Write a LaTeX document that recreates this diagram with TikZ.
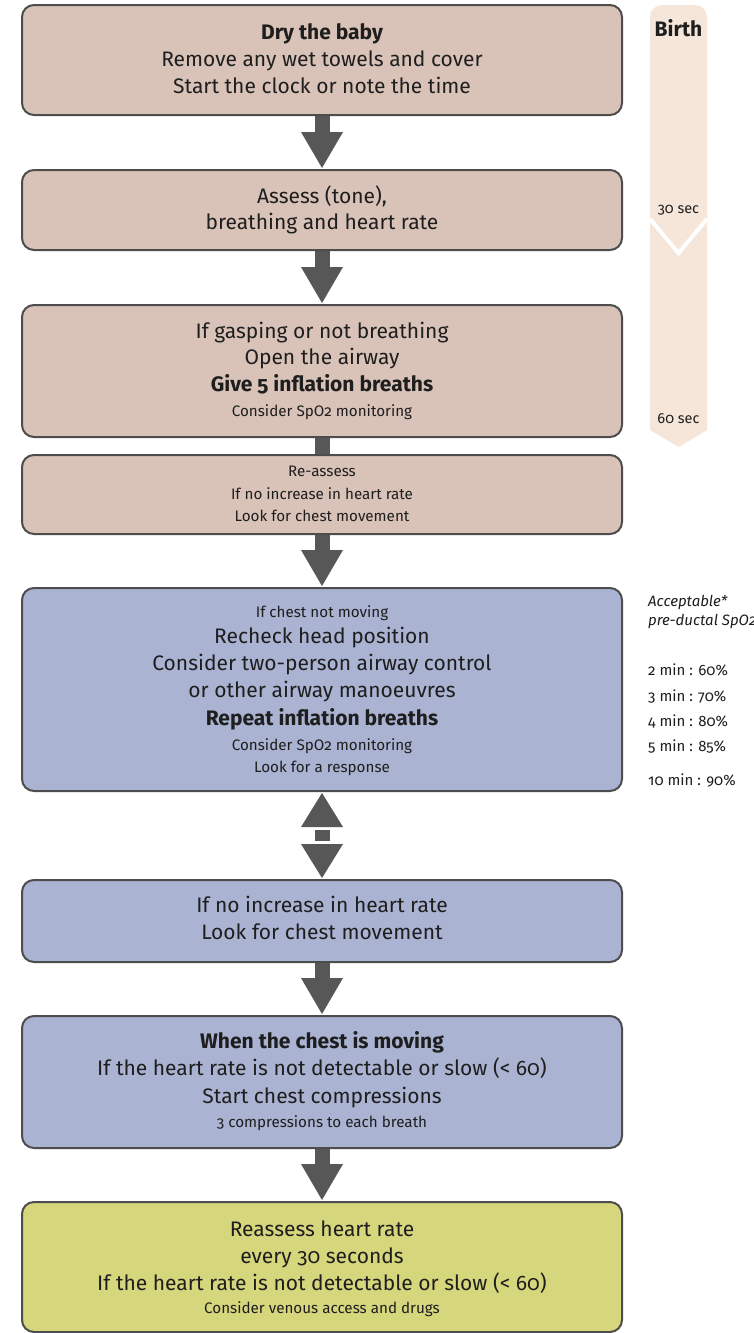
\documentclass[tikz,border=0pt]{standalone}
\usepackage{fontspec}
\setmainfont{Fira Sans}[Numbers=OldStyle]
\usetikzlibrary{calc}
\definecolor{brownc}{HTML}{D9C3B9}
\definecolor{bluec}{HTML}{AAB3D2}
\definecolor{yellowc}{HTML}{D6D67D}
\definecolor{stripc}{HTML}{F6E6DA}
\definecolor{arrc}{HTML}{575757}
\definecolor{edgec}{HTML}{4D4D4D}
\definecolor{txtc}{HTML}{1E1E1E}
\tikzset{
  box/.style={draw=edgec, line width=2pt, rounded corners=12pt, minimum width=600pt, inner sep=0pt},
  tx/.style={inner sep=0pt, text=txtc, text height=0.7em, text depth=0.2em, yshift=-4.5pt},
  big/.style={tx, font=\fontsize{21}{25}\selectfont},
  bigb/.style={tx, font=\fontsize{21}{25}\selectfont\bfseries},
  sml/.style={tx, font=\fontsize{15.2}{18}\selectfont},
  side/.style={tx, anchor=west, yshift=1.5pt, font=\fontsize{15}{18}\selectfont},
  arr/.style={fill=arrc, draw=none},
}
\newcommand\tl[4]{\node[#3] (#1) at (322,#2) {#4};}
\newcommand\dnarrow[2]{%
  \fill[arr] ($(#1.south)+(-7.5,0)$) rectangle ($(#2.north)+(7.5,-37)$);
  \fill[arr] ($(#2.north)+(-21,-37)$) -- ($(#2.north)+(21,-37)$) -- ($(#2.north)+(0,-1)$) -- cycle;}
\begin{document}
\begin{tikzpicture}[x=1pt,y=-1pt]
\useasboundingbox (0,0) rectangle (753,1333);
\fill[white] (0,0) rectangle (753,1333);
% timeline strip
\fill[stripc, rounded corners=12pt] (650,430) -- (650,5) -- (707,5) [sharp corners] -- (707,430) -- (678.5,447) -- cycle;
\draw[white, line width=4pt] (650,219) -- (678.5,253) -- (707,219);
\node[tx, yshift=1.5pt, font=\fontsize{21}{24}\selectfont\bfseries] (birth) at (678.5,31) {Birth};
\node[tx, yshift=1.5pt, font=\fontsize{14.5}{17}\selectfont] (s30) at (678.5,208) {30 sec};
\node[tx, yshift=1.5pt, font=\fontsize{14.5}{17}\selectfont] (s60) at (678.5,418) {60 sec};
% boxes
\node[box, fill=brownc, minimum height=110pt] (b1) at (322,60) {};
\node[box, fill=brownc, minimum height=80pt] (b2) at (322,210) {};
\node[box, fill=brownc, minimum height=132pt] (b3) at (322,371) {};
\node[box, fill=brownc, minimum height=79pt] (b4) at (322,494.5) {};
\node[box, fill=bluec, minimum height=203pt] (b5) at (322,689.5) {};
\node[box, fill=bluec, minimum height=82pt] (b6) at (322,921) {};
\node[box, fill=bluec, minimum height=132pt] (b7) at (322,1082) {};
\node[box, fill=yellowc, minimum height=130pt] (b8) at (322,1267) {};
% connectors
\dnarrow{b1}{b2}
\dnarrow{b2}{b3}
\fill[arr] ($(b3.south)+(-7.5,0)$) rectangle ($(b4.north)+(7.5,0)$);
\dnarrow{b4}{b5}
\fill[arr] ($(b5.south)+(0,1)$) -- ($(b5.south)+(21,35)$) -- ($(b5.south)+(-21,35)$) -- cycle;
\fill[arr] ($(b5.south)+(-7.5,38)$) rectangle ($(b6.north)+(7.5,-38)$);
\fill[arr] ($(b6.north)+(-21,-35)$) -- ($(b6.north)+(21,-35)$) -- ($(b6.north)+(0,-1)$) -- cycle;
\dnarrow{b6}{b7}
\dnarrow{b7}{b8}
% texts
\tl{t1a}{32}{bigb}{Dry the baby}
\tl{t1b}{59}{big}{Remove any wet towels and cover}
\tl{t1c}{86}{big}{Start the clock or note the time}
\tl{t2a}{196}{big}{Assess (tone),}
\tl{t2b}{222}{big}{breathing and heart rate}
\tl{t3a}{331}{big}{If gasping or not breathing}
\tl{t3b}{357}{big}{Open the airway}
\tl{t3c}{384}{bigb}{Give 5 inflation breaths}
\tl{t3d}{409}{sml}{Consider SpO2 monitoring}
\tl{t4a}{469}{sml}{Re-assess}
\tl{t4b}{492}{sml}{If no increase in heart rate}
\tl{t4c}{514}{sml}{Look for chest movement}
\tl{t5a}{610}{sml}{If chest not moving}
\tl{t5b}{636}{big}{Recheck head position}
\tl{t5c}{663}{big}{Consider two-person airway control}
\tl{t5d}{690}{big}{or other airway manoeuvres}
\tl{t5e}{718}{bigb}{Repeat inflation breaths}
\tl{t5f}{743}{sml}{Consider SpO2 monitoring}
\tl{t5g}{765}{sml}{Look for a response}
\tl{t6a}{905}{big}{If no increase in heart rate}
\tl{t6b}{932}{big}{Look for chest movement}
\tl{t7a}{1041}{bigb}{When the chest is moving}
\tl{t7b}{1068}{big}{If the heart rate is not detectable or slow (< 60)}
\tl{t7c}{1096}{big}{Start chest compressions}
\tl{t7d}{1120}{sml}{3 compressions to each breath}
\tl{t8a}{1229}{big}{Reassess heart rate}
\tl{t8b}{1256}{big}{every 30 seconds}
\tl{t8c}{1283}{big}{If the heart rate is not detectable or slow (< 60)}
\tl{t8d}{1306}{sml}{Consider venous access and drugs}
% SpO2 side table
\node[side, font=\fontsize{15}{18}\selectfont\itshape] (acc) at (648,601) {Acceptable*};
\node[side, font=\fontsize{15}{18}\selectfont\itshape] (pre) at (648,620) {pre-ductal SpO2};
\node[side] (m2) at (648,670) {2 min : 60\%};
\node[side] (m3) at (648,696) {3 min : 70\%};
\node[side] (m4) at (648,721) {4 min : 80\%};
\node[side] (m5) at (648,746) {5 min : 85\%};
\node[side] (m10) at (648,780) {10 min : 90\%};
\end{tikzpicture}
\end{document}
